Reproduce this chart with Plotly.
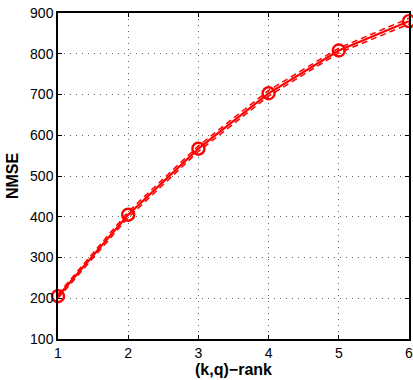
import plotly.graph_objects as go

ranks = [1, 2, 3, 4, 5, 6]
nmse = [205, 405, 567, 703, 808, 880]
nmse_upper = [210, 412, 574, 710, 814, 887]
nmse_lower = [200, 398, 560, 696, 802, 873]
x_ticks = [1, 2, 3, 4, 5, 6]
y_ticks = [100, 200, 300, 400, 500, 600, 700, 800, 900]

red = "#ff0000"
fig = go.Figure()
fig.add_trace(go.Scatter(x=ranks, y=nmse_upper, mode="lines",
                         line=dict(color=red, width=1.5, dash="6px,4px"), showlegend=False))
fig.add_trace(go.Scatter(x=ranks, y=nmse_lower, mode="lines",
                         line=dict(color=red, width=1.5, dash="6px,4px"), showlegend=False))
fig.add_trace(go.Scatter(x=ranks, y=nmse, mode="lines+markers",
                         line=dict(color=red, width=2.2),
                         marker=dict(symbol="circle-open", size=12, color=red, line=dict(width=2.4)),
                         showlegend=False, cliponaxis=False))

font_family = "Liberation Sans, Arial, sans-serif"
axis_common = dict(showline=True, linecolor="black", linewidth=1.5, mirror="ticks",
                   ticks="inside", ticklen=4, tickcolor="black",
                   showgrid=True, gridcolor="#666666", griddash="1px,5px", gridwidth=1,
                   zeroline=False, ticklabeloverflow="allow",
                   tickfont=dict(family=font_family, size=14, color="black"))

fig.update_xaxes(range=[1, 6], tickvals=x_ticks, ticktext=[str(v) for v in x_ticks],
                 title=dict(text="<b>(k,q)−rank</b>", font=dict(family=font_family, size=16, color="black"), standoff=1),
                 **axis_common)
fig.update_yaxes(range=[100, 900], tickvals=y_ticks, ticktext=[str(v) for v in y_ticks],
                 title=dict(text="<b>NMSE</b>", font=dict(family=font_family, size=16, color="black"), standoff=7),
                 **axis_common)

fig.update_layout(width=413, height=380, margin=dict(l=58, r=4, t=13, b=41, autoexpand=False),
                  plot_bgcolor="white", paper_bgcolor="white")
fig.write_html("out.html", config={"displayModeBar": False})

with open("out.html", "r", encoding="utf-8") as f:
    html = f.read()
html = html.replace("<body>", '<body style="margin:0;padding:0;">', 1)
with open("out.html", "w", encoding="utf-8") as f:
    f.write(html)
